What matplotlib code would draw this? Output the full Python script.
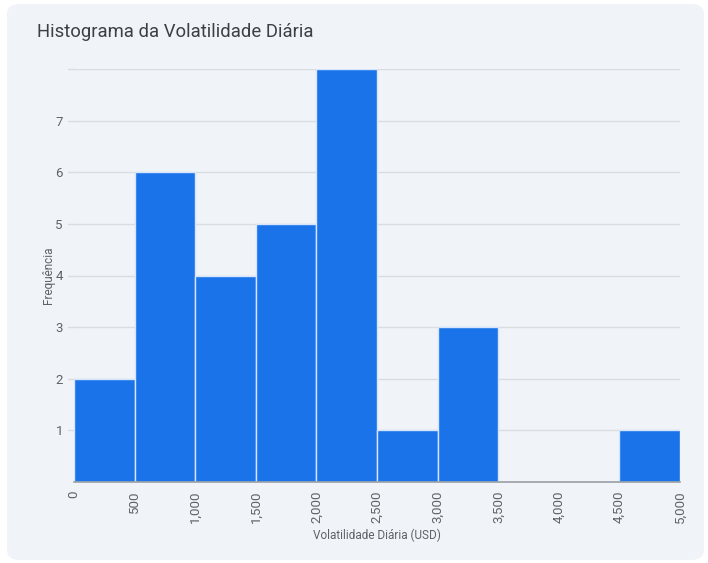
import matplotlib
matplotlib.use("Agg")
import matplotlib.pyplot as plt
from matplotlib.patches import FancyBboxPatch

plt.rcParams['font.family'] = ['Roboto', 'DejaVu Sans']

# Histogram data
bin_edges = [0, 500, 1000, 1500, 2000, 2500, 3000, 3500, 4000, 4500, 5000]
counts = [2, 6, 4, 5, 8, 1, 3, 0, 0, 1]
x_ticks = [0, 500, 1000, 1500, 2000, 2500, 3000, 3500, 4000, 4500, 5000]
y_ticks = [1, 2, 3, 4, 5, 6, 7]

panel_bg = '#f0f3f8'
bar_color = '#1a73e8'
text_gray = '#5f6368'

fig = plt.figure(figsize=(7.08, 5.63), dpi=100)
fig.patch.set_facecolor('white')

# rounded card behind the chart
card = FancyBboxPatch((7 / 708, 3 / 563), 697 / 708, 556 / 563,
                      boxstyle="round,pad=0,rounding_size=0.018",
                      transform=fig.transFigure, facecolor=panel_bg,
                      edgecolor='none', zorder=-5)
fig.patches.append(card)

ax = fig.add_axes([74 / 708, 1 - 482 / 563, 606 / 708, 413 / 563])
ax.set_zorder(1)
ax.patch.set_alpha(0)

lefts = bin_edges[:-1]
widths = [b - a for a, b in zip(bin_edges[:-1], bin_edges[1:])]
ax.bar(lefts, counts, width=widths, align='edge', color=bar_color,
       edgecolor='#d6e4fd', linewidth=1.0, zorder=3)

ax.set_xlim(0, 5000)
ax.set_ylim(0, 8)

# gridlines (including the unlabeled top one at 8)
for y in y_ticks + [8]:
    ax.axhline(y, color='#dadce0', linewidth=1, zorder=1)
    ax.plot([-0.01, 0], [y, y], transform=ax.get_yaxis_transform(),
            color='#dadce0', linewidth=1, clip_on=False, zorder=1)

ax.set_yticks(y_ticks)
ax.set_yticklabels([str(v) for v in y_ticks])
ax.set_xticks(x_ticks)
ax.set_xticklabels([f"{v:,}" for v in x_ticks], rotation=90)
ax.tick_params(axis='y', length=0, pad=8, labelsize=9.5, labelcolor=text_gray)
ax.tick_params(axis='x', length=0, pad=6, labelsize=9.5, labelcolor=text_gray)

for side in ['top', 'right', 'left']:
    ax.spines[side].set_visible(False)
ax.spines['bottom'].set_color('#9aa0a6')
ax.spines['bottom'].set_linewidth(1.2)
ax.spines['bottom'].set_zorder(4)

ax.set_xlabel("Volatilidade Diária (USD)", fontsize=8.5, color=text_gray, labelpad=4)
ax.set_ylabel("Frequência", fontsize=8.5, color=text_gray, labelpad=0)

fig.text(37 / 708, 1 - 32 / 563, "Histograma da Volatilidade Diária",
         fontsize=13.3, color='#3c4043', va='center', ha='left')

fig.savefig('out.png', dpi=100, facecolor=fig.get_facecolor())
